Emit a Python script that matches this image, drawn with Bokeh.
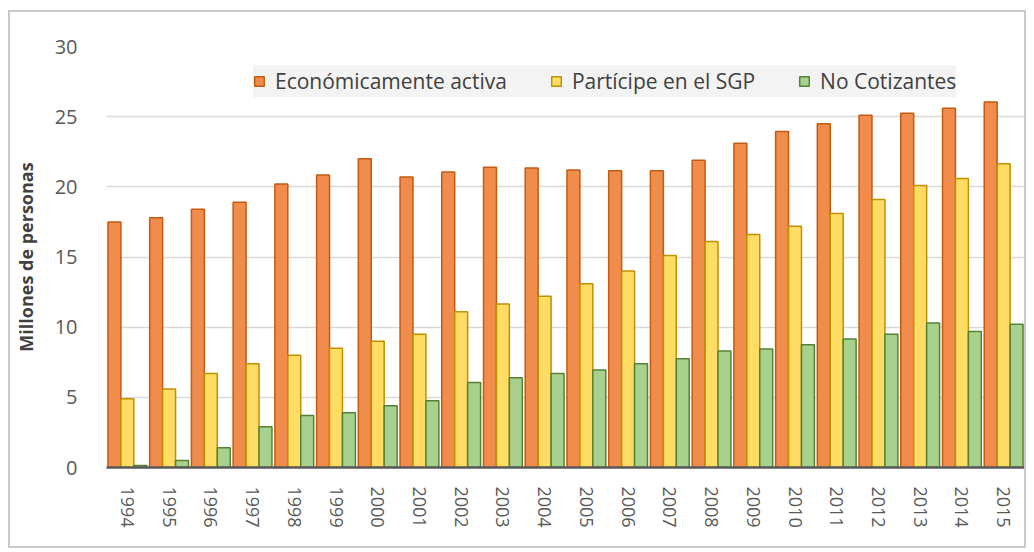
from bokeh.plotting import figure
from bokeh.models import ColumnDataSource, FactorRange, Legend, LegendItem, FixedTicker
from bokeh.transform import dodge
from bokeh.embed import file_html
from bokeh.resources import INLINE

years = [str(y) for y in range(1994, 2016)]
eco_activa = [17.5, 17.8, 18.4, 18.9, 20.2, 20.85, 22.0, 20.7, 21.05, 21.4, 21.35,
              21.2, 21.15, 21.15, 21.9, 23.1, 23.95, 24.5, 25.1, 25.25, 25.6, 26.05]
participe_sgp = [4.9, 5.6, 6.7, 7.4, 8.0, 8.5, 9.0, 9.5, 11.1, 11.65, 12.2,
                 13.1, 14.0, 15.1, 16.1, 16.6, 17.2, 18.1, 19.1, 20.1, 20.6, 21.65]
no_cotizantes = [0.15, 0.5, 1.4, 2.9, 3.7, 3.9, 4.4, 4.75, 6.05, 6.4, 6.7,
                 6.95, 7.4, 7.75, 8.3, 8.45, 8.75, 9.15, 9.5, 10.3, 9.7, 10.2]
labels = ["Económicamente activa", "Partícipe en el SGP", "No Cotizantes"]
y_ticks = [0, 5, 10, 15, 20, 25, 30]

src = ColumnDataSource(dict(year=years, eco=eco_activa, sgp=participe_sgp, noc=no_cotizantes))

p = figure(x_range=FactorRange(*years), y_range=(0, 30),
           width=1018, height=538, output_backend="svg", toolbar_location=None,
           min_border_left=91, min_border_right=4, min_border_top=34, min_border_bottom=83)
p.styles = {"border": "2px solid #c9c9c9", "margin-left": "8px", "margin-top": "10px"}
p.background_fill_color = "#ffffff"
p.border_fill_color = "#ffffff"
p.outline_line_color = None

w = 0.31
r1 = p.vbar(x=dodge("year", -0.31, range=p.x_range), top="eco", width=w, source=src,
            fill_color="#f08c4c", line_color="#c55a11", line_width=1.5)
r2 = p.vbar(x=dodge("year", 0.0, range=p.x_range), top="sgp", width=w, source=src,
            fill_color="#ffdc63", line_color="#bf9000", line_width=1.5)
r3 = p.vbar(x=dodge("year", 0.31, range=p.x_range), top="noc", width=w, source=src,
            fill_color="#a9d18e", line_color="#548235", line_width=1.5)

p.x_range.range_padding = 0
p.x_range.group_padding = 0

p.yaxis.ticker = FixedTicker(ticks=y_ticks)
p.yaxis.axis_line_color = None
p.yaxis.major_tick_line_color = None
p.yaxis.minor_tick_line_color = None
p.yaxis.major_label_text_font = "Open Sans"
p.yaxis.major_label_text_font_size = "20px"
p.yaxis.major_label_text_color = "#595959"
p.yaxis.major_label_standoff = 23
p.yaxis.axis_label = "Millones de personas"
p.yaxis.axis_label_text_font = "Open Sans"
p.yaxis.axis_label_text_font_size = "18px"
p.yaxis.axis_label_text_font_style = "bold"
p.yaxis.axis_label_text_color = "#404040"
p.yaxis.axis_label_standoff = 14

p.xaxis.axis_line_color = "#595959"
p.xaxis.axis_line_width = 2.5
p.xaxis.major_tick_line_color = None
p.xaxis.minor_tick_line_color = None
p.xaxis.major_label_orientation = "vertical"
p.xaxis.major_label_text_font = "Open Sans"
p.xaxis.major_label_text_font_size = "18px"
p.xaxis.major_label_text_color = "#595959"
p.xaxis.major_label_standoff = 13

p.xgrid.grid_line_color = None
p.ygrid.grid_line_color = "#d9d9d9"
p.ygrid.grid_line_width = 1.5

legend = Legend(items=[LegendItem(label=labels[0], renderers=[r1]),
                       LegendItem(label=labels[1], renderers=[r2]),
                       LegendItem(label=labels[2], renderers=[r3])],
                orientation="horizontal", location=(147, 370),
                background_fill_color="#f3f3f3", background_fill_alpha=1.0,
                border_line_color=None, padding=10, spacing=43, margin=0,
                glyph_width=12, glyph_height=12, label_standoff=10, label_height=32,
                label_text_font="Open Sans", label_text_font_size="21px",
                label_text_color="#404040")
p.add_layout(legend, "center")

open("out.html", "w").write(file_html(p, INLINE))
